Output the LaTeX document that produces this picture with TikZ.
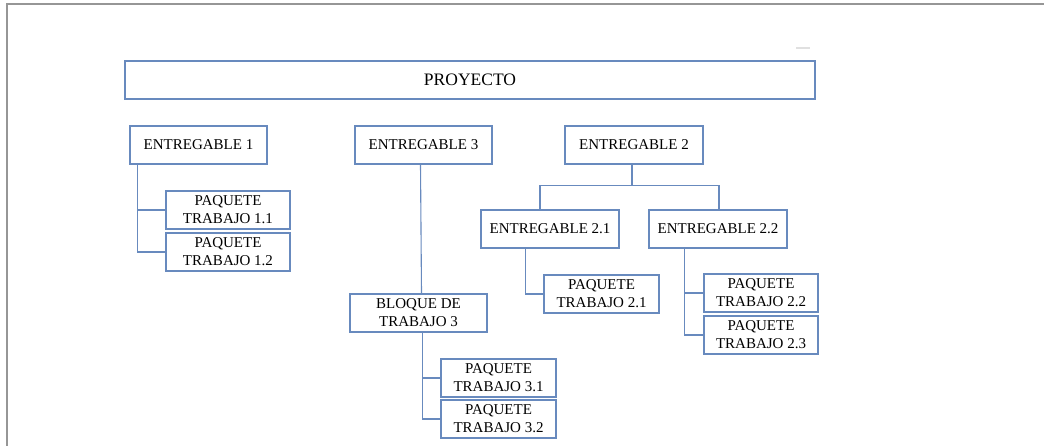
\documentclass[tikz,border=0pt]{standalone}
\usepackage{fontspec}
\setmainfont{Liberation Serif}
\definecolor{boxblue}{RGB}{104,138,190}
\definecolor{framegray}{RGB}{150,150,150}
\begin{document}
\begin{tikzpicture}[x=1pt,y=-1pt,
  box/.style={draw=boxblue,line width=1.3pt,fill=white,inner sep=0pt,
    minimum height=38pt,align=center,font=\fontsize{15}{18}\selectfont},
  link/.style={draw=boxblue,line width=1.1pt}]
\useasboundingbox[fill=white] (0,0) rectangle (1044,446);
\draw[framegray,line width=1.5pt] (7,446) -- (7,4) -- (1044,4);
\draw[black!12,line width=1.5pt] (796,48) -- (810,48);

\node[box,minimum width=690pt,font=\fontsize{17.5}{20}\selectfont] (P) at (470,80) {PROYECTO};
\node[box,minimum width=137pt] (E1) at (198.5,145) {ENTREGABLE 1};
\node[box,minimum width=137pt] (E3) at (423.5,145) {ENTREGABLE 3};
\node[box,minimum width=138pt] (E2) at (634,145) {ENTREGABLE 2};

\node[box,minimum width=124pt] (T11) at (228,210) {PAQUETE\\TRABAJO 1.1};
\node[box,minimum width=124pt] (T12) at (228,252) {PAQUETE\\TRABAJO 1.2};

\node[box,minimum width=138pt] (E21) at (550,229) {ENTREGABLE 2.1};
\node[box,minimum width=138pt] (E22) at (718,229) {ENTREGABLE 2.2};

\node[box,minimum width=115pt] (T21) at (601.5,294) {PAQUETE\\TRABAJO 2.1};
\node[box,minimum width=114pt] (T22) at (761,293) {PAQUETE\\TRABAJO 2.2};
\node[box,minimum width=114pt] (T23) at (761,335) {PAQUETE\\TRABAJO 2.3};

\node[box,minimum width=137pt] (B) at (418.5,313) {BLOQUE DE\\TRABAJO 3};
\node[box,minimum width=115pt] (T31) at (498.5,378) {PAQUETE\\TRABAJO 3.1};
\node[box,minimum width=115pt] (T32) at (498.5,419) {PAQUETE\\TRABAJO 3.2};

% connectors
\draw[link] ([xshift=8pt]E1.south west) |- (T11.west);
\draw[link] ([xshift=8pt]E1.south west) |- (T12.west);

\draw[link] ([xshift=-3pt]E3.south) -- ([xshift=3pt]B.north);
\draw[link] ([xshift=4pt]B.south) |- (T31.west);
\draw[link] ([xshift=4pt]B.south) |- (T32.west);

\draw[link] ([xshift=-2pt]E2.south) -- ++(0,21) coordinate (j2);
\draw[link] ([xshift=-10pt]E21.north) |- (j2) -| ([xshift=1pt]E22.north);

\draw[link] ([xshift=45pt]E21.south west) |- (T21.west);
\draw[link] ([xshift=36pt]E22.south west) |- (T22.west);
\draw[link] ([xshift=36pt]E22.south west) |- (T23.west);
\end{tikzpicture}
\end{document}
